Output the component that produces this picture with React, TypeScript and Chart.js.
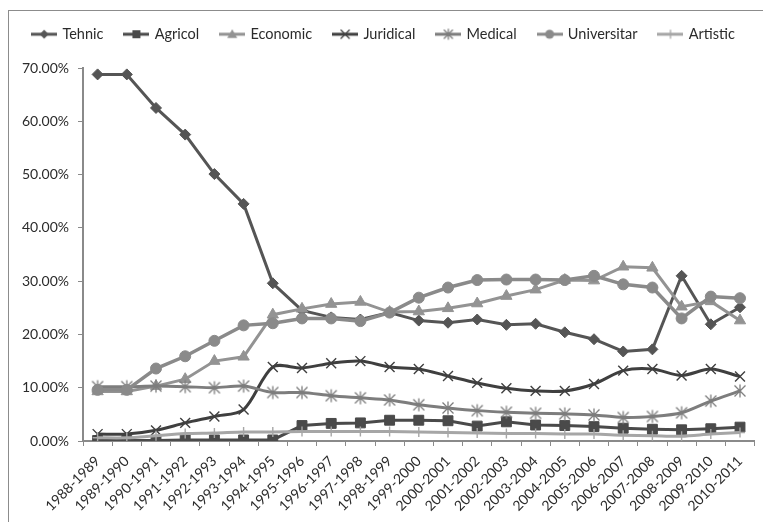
import React, { useEffect, useRef } from 'react';
import { Chart, registerables } from 'chart.js';

Chart.register(...registerables);

const categories = [
  '1988-1989', '1989-1990', '1990-1991', '1991-1992', '1992-1993', '1993-1994',
  '1994-1995', '1995-1996', '1996-1997', '1997-1998', '1998-1999', '1999-2000',
  '2000-2001', '2001-2002', '2002-2003', '2003-2004', '2004-2005', '2005-2006',
  '2006-2007', '2007-2008', '2008-2009', '2009-2010', '2010-2011',
];

const tehnic = [68.8, 68.8, 62.5, 57.5, 50.1, 44.5, 29.6, 24.5, 23.2, 22.8, 24.1, 22.6, 22.2, 22.8, 21.8, 22.0, 20.4, 19.1, 16.8, 17.2, 31.0, 21.9, 25.1];
const agricol = [0.1, 0.1, 0.1, 0.2, 0.2, 0.2, 0.2, 2.9, 3.3, 3.4, 3.9, 3.9, 3.8, 2.8, 3.6, 3.0, 2.9, 2.7, 2.4, 2.2, 2.1, 2.3, 2.6];
const economic = [9.3, 9.3, 10.3, 11.6, 15.0, 15.8, 23.7, 24.8, 25.7, 26.1, 24.2, 24.3, 24.9, 25.8, 27.2, 28.4, 30.2, 30.1, 32.7, 32.5, 25.2, 26.2, 22.6];
const juridical = [1.3, 1.3, 2.0, 3.4, 4.6, 5.9, 13.9, 13.7, 14.6, 15.0, 13.9, 13.5, 12.2, 10.9, 9.9, 9.4, 9.4, 10.7, 13.2, 13.5, 12.3, 13.5, 12.1];
const medical = [10.2, 10.2, 10.3, 10.2, 10.0, 10.3, 9.1, 9.1, 8.5, 8.1, 7.7, 6.8, 6.2, 5.7, 5.4, 5.2, 5.1, 4.9, 4.4, 4.6, 5.3, 7.5, 9.4];
const universitar = [9.6, 9.6, 13.6, 15.9, 18.8, 21.7, 22.1, 23.0, 23.0, 22.5, 24.1, 26.9, 28.8, 30.2, 30.3, 30.3, 30.2, 31.0, 29.4, 28.8, 23.0, 27.1, 26.8];
const artistic = [0.6, 0.6, 1.0, 1.4, 1.5, 1.7, 1.7, 1.8, 1.8, 1.8, 1.8, 1.7, 1.6, 1.5, 1.4, 1.4, 1.3, 1.3, 1.1, 1.0, 0.9, 1.3, 1.6];

const seriesNames = ['Tehnic', 'Agricol', 'Economic', 'Juridical', 'Medical', 'Universitar', 'Artistic'];
const yTicks = [0, 10, 20, 30, 40, 50, 60, 70];

type Marker = 'diamond' | 'square' | 'triangle' | 'x' | 'asterisk' | 'circle' | 'plus';

function drawMarker(ctx: CanvasRenderingContext2D, m: Marker, cx: number, cy: number, r: number, color: string) {
  ctx.fillStyle = color;
  ctx.strokeStyle = color;
  ctx.beginPath();
  if (m === 'diamond') {
    ctx.moveTo(cx, cy - r); ctx.lineTo(cx + r, cy); ctx.lineTo(cx, cy + r); ctx.lineTo(cx - r, cy); ctx.closePath(); ctx.fill();
  } else if (m === 'square') {
    ctx.rect(cx - r, cy - r, 2 * r, 2 * r); ctx.fill();
  } else if (m === 'triangle') {
    ctx.moveTo(cx, cy - r); ctx.lineTo(cx + r, cy + r * 0.75); ctx.lineTo(cx - r, cy + r * 0.75); ctx.closePath(); ctx.fill();
  } else if (m === 'circle') {
    ctx.arc(cx, cy, r, 0, Math.PI * 2); ctx.fill();
  } else if (m === 'x') {
    ctx.lineWidth = 1.3;
    ctx.moveTo(cx - r, cy - r); ctx.lineTo(cx + r, cy + r); ctx.moveTo(cx + r, cy - r); ctx.lineTo(cx - r, cy + r); ctx.stroke();
  } else if (m === 'asterisk') {
    ctx.lineWidth = 1.3;
    ctx.moveTo(cx - r, cy - r); ctx.lineTo(cx + r, cy + r); ctx.moveTo(cx + r, cy - r); ctx.lineTo(cx - r, cy + r);
    ctx.moveTo(cx, cy - r * 1.2); ctx.lineTo(cx, cy + r * 1.2); ctx.stroke();
  } else if (m === 'plus') {
    ctx.lineWidth = 1.3;
    ctx.moveTo(cx, cy - r); ctx.lineTo(cx, cy + r); ctx.moveTo(cx - r, cy); ctx.lineTo(cx + r, cy); ctx.stroke();
  }
}

function makeIcon(w: number, h: number, color: string, lineW: number, marker: Marker, r: number, withLine: boolean) {
  const c = document.createElement('canvas');
  c.width = w; c.height = h;
  const ctx = c.getContext('2d')!;
  if (withLine) {
    ctx.strokeStyle = color; ctx.lineWidth = lineW;
    ctx.beginPath(); ctx.moveTo(0, h / 2); ctx.lineTo(w, h / 2); ctx.stroke();
  }
  drawMarker(ctx, marker, w / 2, h / 2, r, color);
  return c;
}

const colors = ['#555555', '#4a4a4a', '#939393', '#3f3f3f', '#7d7d7d', '#8a8a8a', '#a6a6a6'];
const markers: Marker[] = ['diamond', 'square', 'triangle', 'x', 'asterisk', 'circle', 'plus'];
const legendR = [4.5, 4, 5, 4.5, 4.5, 4.5, 4.5];

export default function App() {
  const ref = useRef<HTMLCanvasElement>(null);
  useEffect(() => {
    if (!ref.current) return;
    Chart.defaults.font.family = 'Lato';
    const legendIcons = colors.map((c, i) => makeIcon(26, 14, c, 3, markers[i], legendR[i], true));
    const medicalPoint = makeIcon(16, 16, colors[4], 0, 'asterisk', 5.5, false);
    const values = [tehnic, agricol, economic, juridical, medical, universitar, artistic];
    const pointStyles: any[] = ['rectRot', 'rect', 'triangle', 'crossRot', medicalPoint, 'circle', 'cross'];
    const radii = [5.5, 7, 6.5, 7, 6, 5.5, 5];
    const tensions = [0, 0, 0, 0.3, 0.3, 0, 0.3];
    const datasets = seriesNames.map((name, i) => ({
      label: name,
      data: values[i],
      borderColor: colors[i],
      backgroundColor: colors[i],
      borderWidth: i === 5 ? 3.5 : 3,
      pointStyle: pointStyles[i],
      pointRadius: radii[i],
      pointBackgroundColor: colors[i],
      pointBorderColor: colors[i],
      pointBorderWidth: [1, 1, 1, 1.4, 1, 1, 1.4][i],
      tension: tensions[i],
      order: 7 - i,
    }));
    const legendSpacer = {
      id: 'legendSpacer',
      beforeInit(chart: any) {
        const orig = chart.legend.fit;
        chart.legend.fit = function () {
          orig.call(this);
          this.height = 63;
        };
      },
    };
    const chart = new Chart(ref.current, {
      type: 'line',
      data: { labels: categories, datasets },
      plugins: [legendSpacer],
      options: {
        animation: false,
        responsive: false,
        layout: { padding: { top: 5, right: 3, left: 8, bottom: 0 } },
        plugins: {
          tooltip: { enabled: false },
          legend: {
            position: 'top',
            labels: {
              usePointStyle: true,
              pointStyleWidth: 22,
              padding: 22,
              color: '#2b2b2b',
              font: { family: 'Lato', size: 14.5 },
              sort: (a: any, b: any) => a.datasetIndex - b.datasetIndex,
              generateLabels: (ch: any) => {
                const items = (Chart.defaults.plugins.legend.labels as any).generateLabels(ch);
                items.forEach((it: any) => { it.pointStyle = legendIcons[it.datasetIndex]; });
                return items;
              },
            },
          },
        },
        scales: {
          x: {
            offset: true,
            ticks: { maxRotation: 45, minRotation: 45, autoSkip: false, color: '#2b2b2b', font: { family: 'Lato', size: 14 }, padding: 7 },
            grid: { offset: true, drawOnChartArea: false, drawTicks: true, tickLength: 5, color: '#8a8a8a', lineWidth: 1 },
            border: { color: '#8a8a8a', width: 2 },
            afterFit: (s: any) => { s.height = 81; },
          },
          y: {
            min: yTicks[0],
            max: yTicks[yTicks.length - 1],
            ticks: { stepSize: 10, color: '#2b2b2b', font: { family: 'Lato', size: 14 }, padding: 9, callback: (v: any) => Number(v).toFixed(2) + '%' },
            grid: { drawOnChartArea: false, drawTicks: true, tickLength: 5, color: '#8a8a8a', lineWidth: 1 },
            border: { color: '#8a8a8a', width: 2 },
            afterFit: (s: any) => { s.width = 75; },
          },
        },
      },
    });
    return () => chart.destroy();
  }, []);
  return (
    <div style={{ position: 'fixed', left: 0, top: 0, width: 763, height: 522, background: '#fff', overflow: 'hidden' }}>
      <div style={{ position: 'absolute', left: 8, top: 10, width: 900, height: 900, borderTop: '1px solid #8c8c8c', borderLeft: '1px solid #8c8c8c' }} />
      <canvas ref={ref} width={763} height={522} style={{ position: 'absolute', left: 0, top: 0, width: 763, height: 522 }} />
    </div>
  );
}
